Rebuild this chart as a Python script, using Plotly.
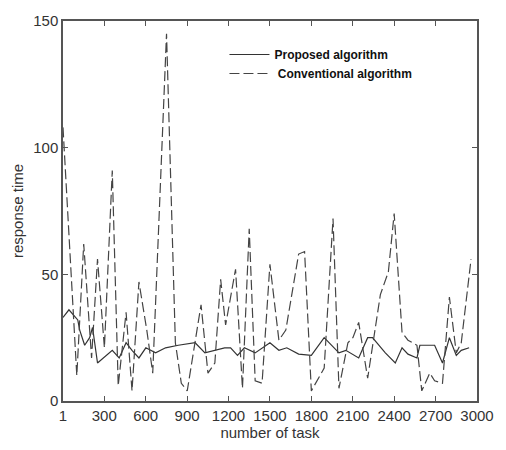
import plotly.graph_objects as go

# Proposed algorithm (solid)
prop_task = [1, 44, 108, 122, 158, 194, 215, 251, 358, 408, 458, 501, 551, 601, 672, 744, 836, 958,
             1029, 1101, 1172, 1215, 1265, 1315, 1393, 1500, 1565, 1622, 1708, 1800, 1893, 2000, 2050,
             2143, 2208, 2243, 2336, 2408, 2457, 2500, 2565, 2586, 2643, 2693, 2750, 2800, 2850, 2886, 2943]
prop_time = [33, 36, 32, 28, 22, 25, 29, 15, 20, 17, 23, 20, 17, 21, 19, 21, 22, 23,
             19, 20, 21, 21, 18, 21, 19, 23, 20, 21, 18.5, 18, 25, 19, 20,
             17, 25, 25, 19, 15, 21, 18.5, 17, 22, 22, 22, 15, 25, 18, 20, 21]

# Conventional algorithm (dashed)
conv_task = [1, 101, 151, 208, 251, 301, 358, 401, 458, 501, 551, 608, 651, 751, 815, 858, 901,
             1001, 1051, 1101, 1143, 1179, 1251, 1301, 1350, 1393, 1443, 1500, 1565, 1615, 1708, 1751,
             1800, 1893, 1957, 2000, 2065, 2101, 2143, 2208, 2300, 2358, 2400, 2457, 2500, 2565, 2600,
             2658, 2693, 2750, 2800, 2850, 2886, 2957]
conv_time = [108, 10, 62, 17, 56, 21, 91, 6, 35, 4, 47, 28, 11, 145, 23, 7, 4,
             38, 11, 15, 48, 30, 52, 5, 68, 8, 7, 54, 24, 28, 58, 59,
             4, 13, 72, 5, 23, 25, 31, 9, 42, 51, 74, 27, 24, 22, 4,
             11, 8, 7, 41, 19, 23, 56]

x_ticks = [1, 300, 600, 900, 1200, 1500, 1800, 2100, 2400, 2700, 3000]
y_ticks = [0, 50, 100, 150]

fig = go.Figure()
fig.add_trace(go.Scatter(x=prop_task, y=prop_time, mode="lines", name="<b>Proposed algorithm</b>",
                         line=dict(color="#333333", width=1.2)))
fig.add_trace(go.Scatter(x=conv_task, y=conv_time, mode="lines", name="<b> Conventional algorithm</b>",
                         line=dict(color="#444444", width=1.2, dash="10px,4px")))

axis_common = dict(showgrid=False, zeroline=False, showline=True, linecolor="#555555", linewidth=1.5,
                   mirror="ticks", ticks="inside", ticklen=5, tickcolor="#555555",
                   tickfont=dict(family="Liberation Sans, Arial", size=15, color="#333333"))

fig.update_layout(
    width=506, height=450,
    margin=dict(l=63, r=23, t=15, b=47),
    paper_bgcolor="white", plot_bgcolor="white",
    xaxis=dict(range=[1, 3000], tickvals=x_ticks, ticktext=[str(v) for v in x_ticks],
               title=dict(text="number of task", standoff=4,
                          font=dict(family="Liberation Sans, Arial", size=15, color="#333333")),
               **axis_common),
    yaxis=dict(range=[0, 150], tickvals=y_ticks,
               title=dict(text="response time", standoff=6,
                          font=dict(family="Liberation Sans, Arial", size=15, color="#333333")),
               **axis_common),
    legend=dict(x=0.39, y=0.95, xanchor="left", yanchor="top", bgcolor="rgba(0,0,0,0)",
                font=dict(family="Liberation Sans Narrow, Arial Narrow, Liberation Sans", size=12, color="#111111"),
                itemwidth=40, tracegroupgap=4),
    showlegend=True,
)

fig.write_html("out.html")
